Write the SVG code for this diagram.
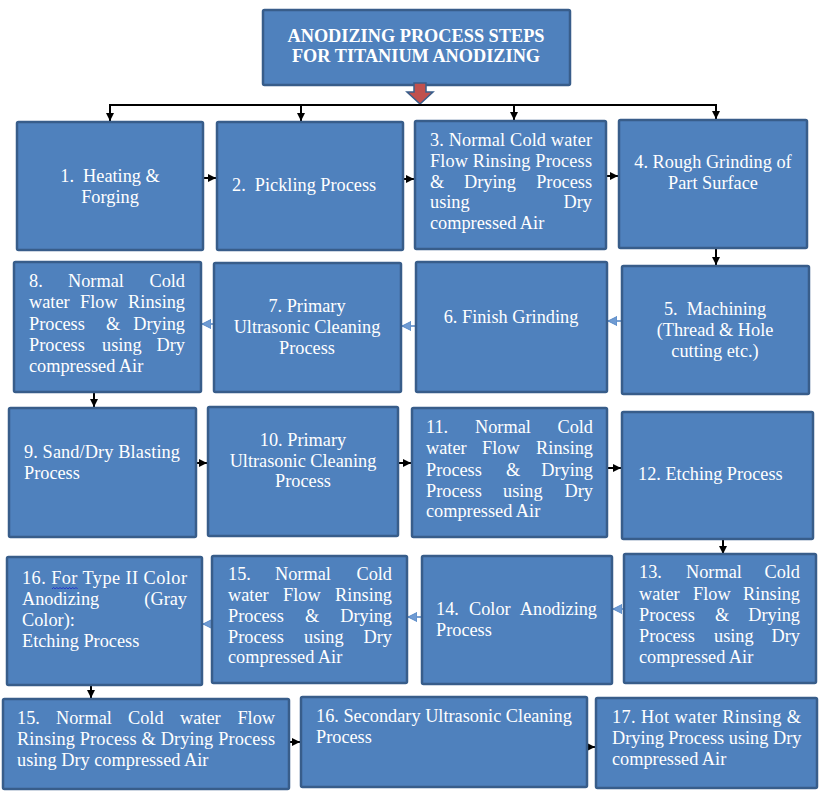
<svg xmlns="http://www.w3.org/2000/svg" width="833" height="799" viewBox="0 0 833 799">
<defs>
<style>
.box{fill:#4F81BD;stroke:#385D8A;stroke-width:2.5}
.t{font-family:"Liberation Serif","Times New Roman",serif;font-size:18.3px;fill:#ffffff}
.b{font-weight:bold}
.c{text-anchor:middle}
.e{text-anchor:end}
.k{stroke:#000;stroke-width:2;fill:none}
.bl{stroke:#5A8AC6;stroke-width:1.6;fill:none}
</style>
<marker id="ak" markerUnits="userSpaceOnUse" markerWidth="9" markerHeight="9" refX="8" refY="4.5" orient="auto"><path d="M0,0.5 L8,4.5 L0,8.5 z" fill="#000"/></marker>
<marker id="ab" markerUnits="userSpaceOnUse" markerWidth="10" markerHeight="10" refX="9" refY="5" orient="auto"><path d="M0,0.5 L9,5 L0,9.5 z" fill="#6F9BD3" stroke="#5A8AC6" stroke-width="1"/></marker>
</defs>
<rect width="833" height="799" fill="#fff"/>

<g id="title">
<rect class="box" x="263" y="10" width="307" height="75" rx="1.5"/>
<text class="t b c" x="416" y="42">ANODIZING PROCESS STEPS</text>
<text class="t b c" x="416" y="62">FOR TITANIUM ANODIZING</text>
</g>

<g id="connectors">
<polygon points="414,83 426,83 426,92 433,92 420,104 407,92 414,92" fill="#C0504D" stroke="#385D8A" stroke-width="1.5"/>
<path class="k" d="M109,105 H717"/>
<path class="k" d="M110,105 V121" marker-end="url(#ak)"/>
<path class="k" d="M301,105 V121" marker-end="url(#ak)"/>
<path class="k" d="M514,105 V120" marker-end="url(#ak)"/>
<path class="k" d="M716,105 V119" marker-end="url(#ak)"/>
<path class="k" d="M203,178 H216" marker-end="url(#ak)"/>
<path class="k" d="M403,179 H414" marker-end="url(#ak)"/>
<path class="k" d="M606,176 H618" marker-end="url(#ak)"/>
<path class="k" d="M716,248 V265" marker-end="url(#ak)"/>
<path class="bl" d="M622,321 H608" marker-end="url(#ab)"/>
<path class="bl" d="M416,326 H402" marker-end="url(#ab)"/>
<path class="bl" d="M214,324 H202" marker-end="url(#ab)"/>
<path class="k" d="M94,392 V407" marker-end="url(#ak)"/>
<path class="k" d="M196,463 H207" marker-end="url(#ak)"/>
<path class="k" d="M398,463 H411" marker-end="url(#ak)"/>
<path class="k" d="M607,468 H621" marker-end="url(#ak)"/>
<path class="k" d="M723,539 V554" marker-end="url(#ak)"/>
<path class="bl" d="M624,609 H613" marker-end="url(#ab)"/>
<path class="bl" d="M422,617 H408" marker-end="url(#ab)"/>
<path class="bl" d="M212,624 H203" marker-end="url(#ab)"/>
<path class="k" d="M91,685 V698" marker-end="url(#ak)"/>
<path class="k" d="M289,742 H300" marker-end="url(#ak)"/>
<path class="k" d="M587,747 H595" marker-end="url(#ak)"/>
</g>

<g id="n1">
<rect class="box" x="17" y="122" width="186" height="128" rx="1.5"/>
<text class="t c" x="110" y="182" xml:space="preserve">1.  Heating &amp;</text>
<text class="t c" x="110" y="203">Forging</text>
</g>

<g id="n2">
<rect class="box" x="217" y="122" width="186" height="128" rx="1.5"/>
<text class="t" x="232" y="191" xml:space="preserve">2.  Pickling Process</text>
</g>

<g id="n3">
<rect class="box" x="415" y="121" width="191" height="128" rx="1.5"/>
<text class="t" x="430" y="146" textLength="162" lengthAdjust="spacing">3. Normal Cold water</text>
<text class="t" x="430" y="167" textLength="162" lengthAdjust="spacing">Flow Rinsing Process</text>
<text class="t" y="188"><tspan x="430">&amp;</tspan><tspan x="464">Drying</tspan><tspan class="e" x="592">Process</tspan></text>
<text class="t" y="208"><tspan x="430">using</tspan><tspan class="e" x="592">Dry</tspan></text>
<text class="t" x="430" y="229">compressed Air</text>
</g>

<g id="n4">
<rect class="box" x="619" y="120" width="188" height="128" rx="1.5"/>
<text class="t c" x="713" y="168">4. Rough Grinding of</text>
<text class="t c" x="713" y="189">Part Surface</text>
</g>

<g id="n5">
<rect class="box" x="622" y="266" width="187" height="128" rx="1.5"/>
<text class="t c" x="715" y="315" xml:space="preserve">5.  Machining</text>
<text class="t c" x="715" y="336">(Thread &amp; Hole</text>
<text class="t c" x="715" y="357">cutting etc.)</text>
</g>

<g id="n6">
<rect class="box" x="416" y="262" width="191" height="130" rx="1.5"/>
<text class="t c" x="511" y="323">6. Finish Grinding</text>
</g>

<g id="n7">
<rect class="box" x="214" y="263" width="187" height="129" rx="1.5"/>
<text class="t c" x="307" y="312">7. Primary</text>
<text class="t c" x="307" y="333">Ultrasonic Cleaning</text>
<text class="t c" x="307" y="354">Process</text>
</g>

<g id="n8">
<rect class="box" x="14" y="262" width="187" height="130" rx="1.5"/>
<text class="t" y="287"><tspan x="29">8.</tspan><tspan x="68">Normal</tspan><tspan class="e" x="185">Cold</tspan></text>
<text class="t" y="308"><tspan x="29">water</tspan><tspan x="80">Flow</tspan><tspan class="e" x="185">Rinsing</tspan></text>
<text class="t" y="330"><tspan x="29">Process</tspan><tspan x="106">&amp;</tspan><tspan class="e" x="185">Drying</tspan></text>
<text class="t" y="351"><tspan x="29">Process</tspan><tspan x="102">using</tspan><tspan class="e" x="185">Dry</tspan></text>
<text class="t" x="29" y="372">compressed Air</text>
</g>

<g id="n9">
<rect class="box" x="9" y="408" width="187" height="129" rx="1.5"/>
<text class="t" x="24" y="458" textLength="156" lengthAdjust="spacing">9. Sand/Dry Blasting</text>
<text class="t" x="24" y="479">Process</text>
</g>

<g id="n10">
<rect class="box" x="208" y="407" width="190" height="129" rx="1.5"/>
<text class="t c" x="303" y="446">10. Primary</text>
<text class="t c" x="303" y="467">Ultrasonic Cleaning</text>
<text class="t c" x="303" y="487">Process</text>
</g>

<g id="n11">
<rect class="box" x="412" y="408" width="195" height="129" rx="1.5"/>
<text class="t" y="433"><tspan x="426">11.</tspan><tspan x="475">Normal</tspan><tspan class="e" x="593">Cold</tspan></text>
<text class="t" y="454"><tspan x="426">water</tspan><tspan x="482">Flow</tspan><tspan class="e" x="593">Rinsing</tspan></text>
<text class="t" y="476"><tspan x="426">Process</tspan><tspan x="506">&amp;</tspan><tspan class="e" x="593">Drying</tspan></text>
<text class="t" y="497"><tspan x="426">Process</tspan><tspan x="503">using</tspan><tspan class="e" x="593">Dry</tspan></text>
<text class="t" x="426" y="517">compressed Air</text>
</g>

<g id="n12">
<rect class="box" x="622" y="412" width="191" height="127" rx="1.5"/>
<text class="t" x="638" y="480">12. Etching Process</text>
</g>

<g id="n13">
<rect class="box" x="624" y="554" width="192" height="129" rx="1.5"/>
<text class="t" y="578"><tspan x="639">13.</tspan><tspan x="686">Normal</tspan><tspan class="e" x="800">Cold</tspan></text>
<text class="t" y="600"><tspan x="639">water</tspan><tspan x="693">Flow</tspan><tspan class="e" x="800">Rinsing</tspan></text>
<text class="t" y="621"><tspan x="639">Process</tspan><tspan x="715">&amp;</tspan><tspan class="e" x="800">Drying</tspan></text>
<text class="t" y="642"><tspan x="639">Process</tspan><tspan x="714">using</tspan><tspan class="e" x="800">Dry</tspan></text>
<text class="t" x="639" y="663">compressed Air</text>
</g>

<g id="n14">
<rect class="box" x="422" y="556" width="190" height="128" rx="1.5"/>
<text class="t" y="615"><tspan x="436">14.</tspan><tspan x="469">Color</tspan><tspan class="e" x="597">Anodizing</tspan></text>
<text class="t" x="436" y="636">Process</text>
</g>

<g id="n15a">
<rect class="box" x="212" y="556" width="195" height="127" rx="1.5"/>
<text class="t" y="580"><tspan x="228">15.</tspan><tspan x="275">Normal</tspan><tspan class="e" x="392">Cold</tspan></text>
<text class="t" y="601"><tspan x="228">water</tspan><tspan x="283">Flow</tspan><tspan class="e" x="392">Rinsing</tspan></text>
<text class="t" y="622"><tspan x="228">Process</tspan><tspan x="305">&amp;</tspan><tspan class="e" x="392">Drying</tspan></text>
<text class="t" y="643"><tspan x="228">Process</tspan><tspan x="304">using</tspan><tspan class="e" x="392">Dry</tspan></text>
<text class="t" x="228" y="663">compressed Air</text>
</g>

<g id="n16a">
<rect class="box" x="7" y="557" width="195" height="128" rx="1.5"/>
<text class="t" x="22" y="584" textLength="165" lengthAdjust="spacing">16. For Type II Color</text>
<path d="M52,589 l1.6,-1.6 l1.6,1.6 l1.6,-1.6 l1.6,1.6 l1.6,-1.6 l1.6,1.6 l1.6,-1.6 l1.6,1.6 l1.6,-1.6 l1.6,1.6 l1.6,-1.6 l1.6,1.6 l1.6,-1.6 l1.6,1.6 l1.6,-1.6 l1.6,1.6" fill="none" stroke="#2233CC" stroke-width="1"/>
<text class="t" y="605"><tspan x="22">Anodizing</tspan><tspan class="e" x="187">(Gray</tspan></text>
<text class="t" x="22" y="626">Color):</text>
<text class="t" x="22" y="647">Etching Process</text>
</g>

<g id="n15b">
<rect class="box" x="3" y="699" width="286" height="90" rx="1.5"/>
<text class="t" y="724"><tspan x="17">15.</tspan><tspan x="56">Normal</tspan><tspan x="128">Cold</tspan><tspan x="180">water</tspan><tspan class="e" x="275">Flow</tspan></text>
<text class="t" x="17" y="745" textLength="258" lengthAdjust="spacing">Rinsing Process &amp; Drying Process</text>
<text class="t" x="17" y="766">using Dry compressed Air</text>
</g>

<g id="n16b">
<rect class="box" x="301" y="697" width="286" height="90" rx="1.5"/>
<text class="t" x="316" y="722">16. Secondary Ultrasonic Cleaning</text>
<text class="t" x="316" y="743">Process</text>
</g>

<g id="n17">
<rect class="box" x="596" y="698" width="221" height="90" rx="1.5"/>
<text class="t" x="612" y="723" textLength="189" lengthAdjust="spacing">17. Hot water Rinsing &amp;</text>
<text class="t" x="612" y="744">Drying Process using Dry</text>
<text class="t" x="612" y="765">compressed Air</text>
</g>
</svg>
